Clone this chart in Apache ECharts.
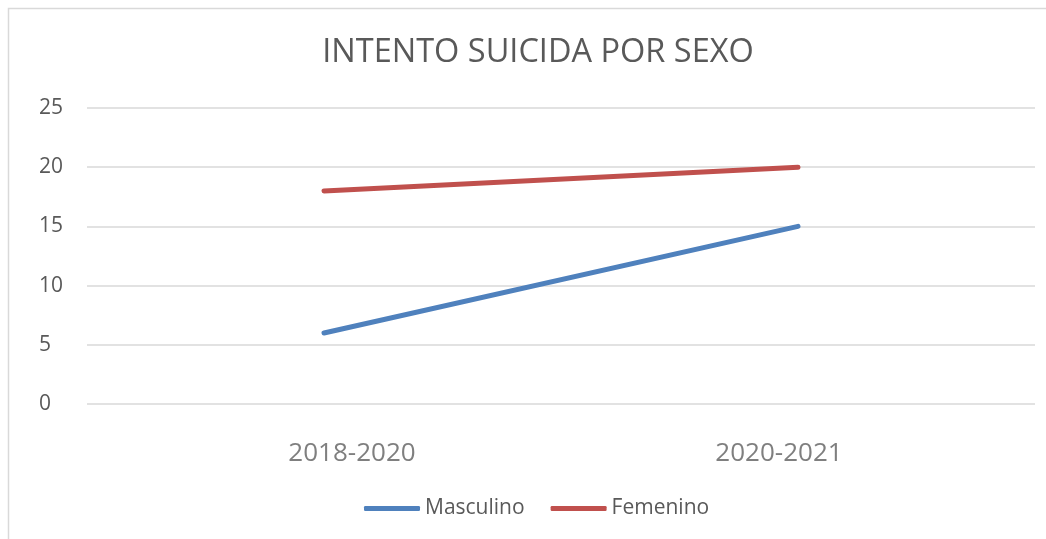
<!DOCTYPE html>
<html><head><meta charset="utf-8">
<script src="https://cdn.jsdelivr.net/npm/echarts@6/dist/echarts.min.js"></script>
<style>html,body{margin:0;padding:0;background:#fff}#c{width:1046px;height:539px}</style>
</head><body><div id="c"></div>
<script>
const categories = ['2018-2020', '2020-2021'];
const masculino = [6, 15];
const femenino = [18, 20];
const yTicks = [0, 5, 10, 15, 20, 25];

const labelPads = [[0, 0, 0, 56], [0, 38, 0, 0]];
const chart = echarts.init(document.getElementById('c'), null, {renderer: 'canvas'});
const font = "'Open Sans', 'Noto Sans', sans-serif";
chart.setOption({
  animation: false,
  graphic: [{type: 'rect', shape: {x: 8.5, y: 8.5, width: 1200, height: 700}, style: {fill: 'none', stroke: '#d9d9d9', lineWidth: 1.5}, silent: true}],
  title: {text: 'INTENTO SUICIDA POR SEXO', left: 533, textAlign: 'center', top: 31,
    textStyle: {fontFamily: font, fontWeight: 'normal', fontSize: 32.5, color: '#595959'}},
  legend: {bottom: 15, left: 359, itemWidth: 56, itemHeight: 5, itemGap: 26,
    icon: 'roundRect',
    textStyle: {fontFamily: font, fontSize: 21, color: '#595959'},
    data: ['Masculino', 'Femenino']},
  grid: {left: 87, right: 11, top: 108, bottom: 135, containLabel: false},
  xAxis: {type: 'category',
    data: categories.map((c, i) => ({value: c, textStyle: {padding: labelPads[i]}})),
    boundaryGap: true,
    axisLine: {show: false}, axisTick: {show: false},
    axisLabel: {fontFamily: font, fontSize: 26, color: '#7f7f7f', margin: 37}},
  yAxis: {type: 'value', min: yTicks[0], max: yTicks[yTicks.length-1], interval: 5,
    axisLine: {show: false}, axisTick: {show: false},
    axisLabel: {fontFamily: font, fontSize: 21, color: '#595959', margin: 48, align: 'left'},
    splitLine: {lineStyle: {color: '#d9d9d9', width: 1.5}}},
  series: [
    {name: 'Masculino', type: 'line', data: masculino, symbol: 'none',
     lineStyle: {color: '#4f81bd', width: 5, cap: 'round'}, itemStyle: {color: '#4f81bd'}},
    {name: 'Femenino', type: 'line', data: femenino, symbol: 'none',
     lineStyle: {color: '#c0504d', width: 5, cap: 'round'}, itemStyle: {color: '#c0504d'}}
  ]
});
</script></body></html>
